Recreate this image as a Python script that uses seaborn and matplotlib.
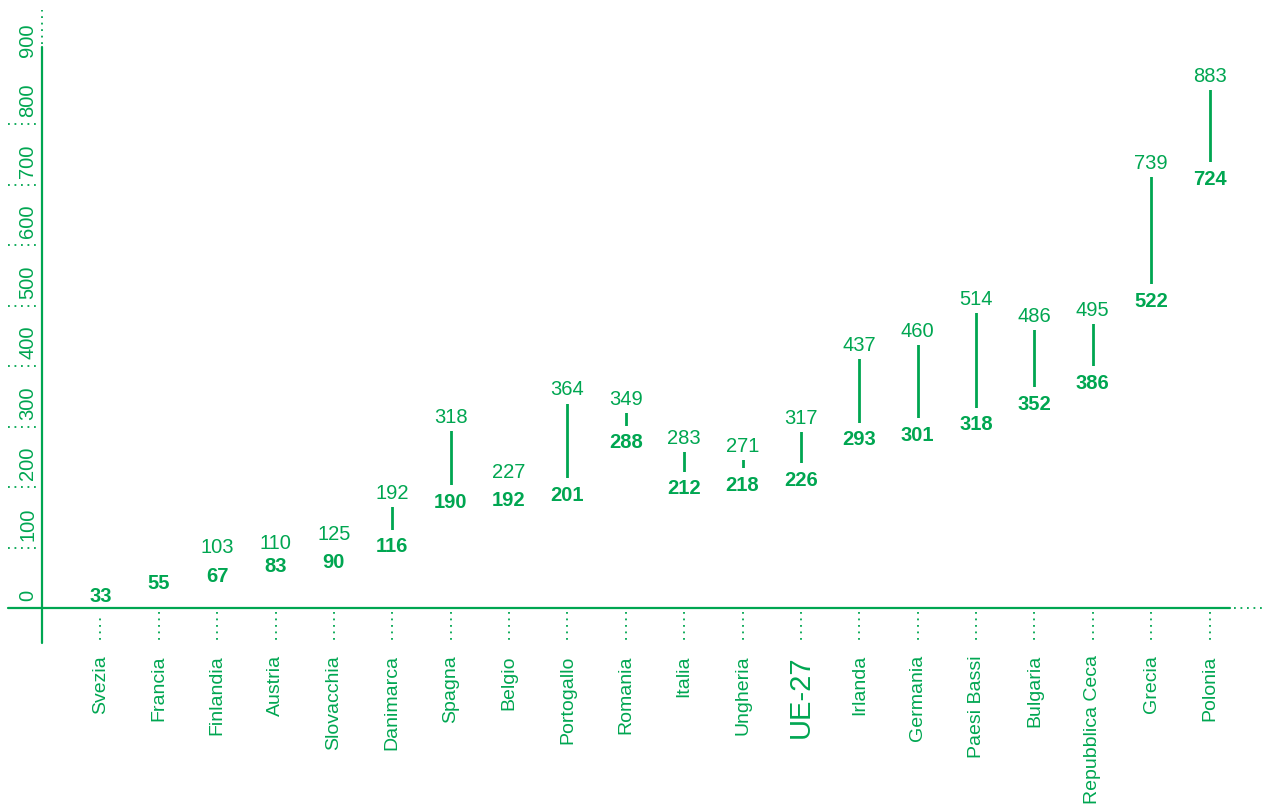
import numpy as np
import pandas as pd
import matplotlib
matplotlib.use("Agg")
import matplotlib.pyplot as plt
import seaborn as sns

# dati
paesi = ["Svezia", "Francia", "Finlandia", "Austria", "Slovacchia", "Danimarca",
         "Spagna", "Belgio", "Portogallo", "Romania", "Italia", "Ungheria", "UE-27",
         "Irlanda", "Germania", "Paesi Bassi", "Bulgaria", "Repubblica Ceca",
         "Grecia", "Polonia"]
valore_min = [33, 55, 67, 83, 90, 116, 190, 192, 201, 288, 212, 218, 226,
              293, 301, 318, 352, 386, 522, 724]
valore_max = [None, None, 103, 110, 125, 192, 318, 227, 364, 349, 283, 271, 317,
              437, 460, 514, 486, 495, 739, 883]
y_ticks = [0, 100, 200, 300, 400, 500, 600, 700, 800, 900]

GREEN = "#00a651"
W, H = 1263, 807

sns.set_theme(style="white")
plt.rcParams["font.family"] = ["Liberation Sans", "DejaVu Sans"]

df = pd.DataFrame({"paese": paesi, "pos": np.arange(len(paesi)),
                   "min": valore_min, "max": valore_max})
df["max"] = pd.to_numeric(df["max"])
long = df.melt(id_vars=["paese", "pos"], value_vars=["min", "max"],
               value_name="valore").dropna()

fig = plt.figure(figsize=(W / 100, H / 100), dpi=100)
ax = fig.add_axes([42 / W, 1 - 608 / H, (1230 - 42) / W, (608 - 64) / H])

sns.lineplot(data=long, x="pos", y="valore", units="paese", estimator=None,
             sort=False, color=GREEN, lw=2, legend=False, ax=ax)

ax.set_xlim(-1, 19.35)
ax.set_ylim(0, 900)
sns.despine(ax=ax, left=True, bottom=True)
ax.set_xlabel("")
ax.set_ylabel("")

# etichette dei valori
for _, r in df.iterrows():
    ax.annotate(str(int(r["min"])), (r["pos"], r["min"]), xytext=(0, -5),
                textcoords="offset points", ha="center", va="center_baseline",
                fontsize=14.5, fontweight="bold", color=GREEN, zorder=4,
                bbox=dict(boxstyle="square,pad=0.38", fc="white", ec="none"))
for _, r in df.iterrows():
    if pd.notna(r["max"]):
        ax.annotate(str(int(r["max"])), (r["pos"], r["max"]), xytext=(0, 0),
                    textcoords="offset points", ha="center", va="center_baseline",
                    fontsize=14.5, color=GREEN, zorder=5,
                    bbox=dict(boxstyle="square,pad=0.2", fc="white", ec="none"))

# assi
ax.plot([0, 0], [-0.064, 1.031], transform=ax.transAxes, clip_on=False,
        color=GREEN, lw=1.6, zorder=6)
ax.plot([0, 0], [1.036, 1.099], transform=ax.transAxes, clip_on=False,
        color=GREEN, lw=1.3, ls=(0, (1, 2.6)))
ax.plot([-0.0286, 1.0], [0, 0], transform=ax.transAxes, clip_on=False,
        color=GREEN, lw=1.6, zorder=6)
ax.plot([1.003, 1.027], [0, 0], transform=ax.transAxes, clip_on=False,
        color=GREEN, lw=1.3, ls=(0, (1, 2.6)))

# tacche e etichette asse y
ax.set_yticks([])
tr_y = ax.get_yaxis_transform()
for v in y_ticks:
    if 0 < v < 900:
        ax.plot([-0.0286, -0.0034], [v, v], transform=tr_y, clip_on=False,
                color=GREEN, lw=1.3, ls=(0, (1, 2.6)))
    ax.annotate(str(v), xy=(-0.0118, v), xycoords=tr_y, xytext=(0, 5),
                textcoords="offset points", rotation=90, ha="center",
                va="bottom", fontsize=14.5, color=GREEN, annotation_clip=False)

# tacche e etichette asse x
tr_x = ax.get_xaxis_transform()
for p in df["pos"]:
    ax.plot([p, p], [-0.008, -0.064], transform=tr_x, clip_on=False,
            color=GREEN, lw=1.3, ls=(0, (1, 2.6)))
ax.set_xticks(df["pos"], paesi, rotation=90, fontsize=14, color=GREEN)
ax.tick_params(axis="x", length=0, pad=34)
for lab in ax.get_xticklabels():
    if lab.get_text() == "UE-27":
        lab.set_fontsize(21)

fig.savefig("out.png", dpi=100)
